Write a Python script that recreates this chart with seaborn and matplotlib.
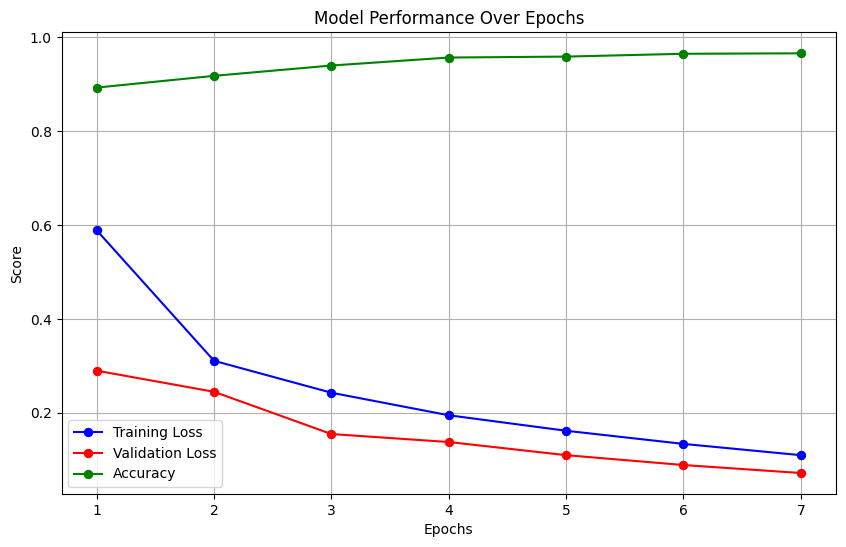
import matplotlib
matplotlib.use("Agg")
import matplotlib.pyplot as plt
import seaborn as sns
import pandas as pd

# data
epochs = [1, 2, 3, 4, 5, 6, 7]
training_loss = [0.589, 0.311, 0.243, 0.195, 0.162, 0.134, 0.110]
validation_loss = [0.290, 0.245, 0.155, 0.138, 0.110, 0.089, 0.072]
accuracy = [0.893, 0.918, 0.940, 0.957, 0.959, 0.965, 0.966]

df = pd.DataFrame({
    'epoch': epochs,
    'Training Loss': training_loss,
    'Validation Loss': validation_loss,
    'Accuracy': accuracy,
})

fig = plt.figure(figsize=(8.46, 5.47), dpi=100)
ax = fig.add_axes([0.0727, 0.0969, 0.9155, 0.844])

colors = {'Training Loss': 'blue', 'Validation Loss': 'red', 'Accuracy': 'green'}
for name, c in colors.items():
    sns.lineplot(data=df, x='epoch', y=name, ax=ax, color=c, marker='o',
                 markersize=6, markeredgecolor=c, linewidth=1.5, label=name)

ax.set_title('Model Performance Over Epochs')
ax.set_xlabel('Epochs')
ax.set_ylabel('Score')
ax.set_xticks(epochs)
ax.grid(True)
ax.legend(loc='lower left')

fig.savefig('out.png', dpi=100)
